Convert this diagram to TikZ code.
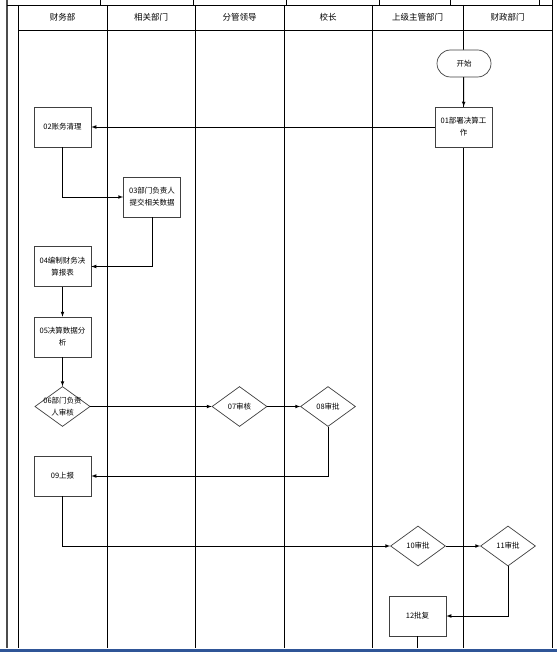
\documentclass[tikz,border=0pt]{standalone}
\usepackage{fontspec}
\setmainfont{Noto Sans CJK SC}
\usepackage{xcolor}
\usetikzlibrary{arrows}
\usetikzlibrary{shapes.geometric}
\usetikzlibrary{positioning}
\definecolor{barblue}{RGB}{47,85,151}

\begin{document}
\begin{tikzpicture}[x=1pt,y=-1pt,->,>=latex,semithick,line width=0.7pt]
 				 \tikzstyle{lane}=[-,draw=black,line width=0.8pt]
 				 \tikzstyle{head}=[font=\fontsize{8.5}{10}\selectfont]
 				 \tikzstyle{task}=[draw=black!75,fill=white,minimum width=57pt,minimum height=40pt,inner sep=1pt,align=center,font=\fontsize{7.5}{12}\selectfont]
 				 \tikzstyle{check}=[diamond,aspect=1.4,draw=black!75,fill=white,minimum width=55pt,minimum height=40pt,inner sep=-2pt,align=center,font=\fontsize{7.5}{12}\selectfont]
 				 \tikzstyle{term}=[draw=black!75,fill=white,rounded corners=13.5pt,minimum width=54pt,minimum height=27pt,font=\fontsize{7.5}{12}\selectfont]
 				 \useasboundingbox (0,0) rectangle (557,652);
 				 % frame and lanes
 				 \fill[barblue] (0,649) rectangle (557,652);
 				 \draw[lane,draw=black!70,line width=1.2pt] (7,0) -- (7,648);
 				 \draw[lane] (18,5) -- (18,648);
 				 \draw[lane] (552,0) -- (552,648);
 				 \draw[lane] (7,5) -- (552,5);
 				 \draw[lane] (18,30) -- (552,30);
 				 \foreach \x in {100,193,286,379,450,539}
 				 	\draw[lane] (\x,0) -- (\x,5);
 				 \foreach \x in {107,195,284,372,463}
 				 	\draw[lane] (\x,5) -- (\x,648);
 				 \node[head] (h1) at (62.5,17.5) {财务部};
 				 \node[head] (h2) at (151,17.5) {相关部门};
 				 \node[head] (h3) at (239.5,17.5) {分管领导};
 				 \node[head] (h4) at (328,17.5) {校长};
 				 \node[head] (h5) at (417.5,17.5) {上级主管部门};
 				 \node[head] (h6) at (507.5,17.5) {财政部门};
 				 % steps
 				 \node[term]  (start) at (464,63.5) {开始};
 				 \node[task]  (s01) at (463.5,127) {01部署决算工\\作};
 				 \node[task]  (s02) at (62.5,127) {02账务清理};
 				 \node[task]  (s03) at (152,197) {03部门负责人\\提交相关数据};
 				 \node[task]  (s04) at (62.5,266.5) {04编制财务决\\算报表};
 				 \node[task]  (s05) at (62.5,337) {05决算数据分\\析};
 				 \node[check] (s06) at (62.5,406.5) {06部门负责\\人审核};
 				 \node[check] (s07) at (239.5,406.5) {07审核};
 				 \node[check] (s08) at (328,406.5) {08审批};
 				 \node[task]  (s09) at (62.5,476) {09上报};
 				 \node[check] (s10) at (418,546) {10审批};
 				 \node[check] (s11) at (508,546) {11审批};
 				 \node[task]  (s12) at (417.5,616) {12批复};
 				 \coordinate (out) at (417.5,648);
				\path
				(start) edge (s01)
				(s01) edge (s02)
				(s04) edge (s05)
				(s05) edge (s06)
				(s06) edge (s07)
				(s07) edge (s08)
				(s10) edge (s11);
				\draw (s02.south) |- (s03.west);
				\draw (s03.south) |- (s04.east);
				\draw (s08.south) |- (s09.east);
				\draw (s09.south) |- (s10.west);
				\draw (s11.south) |- (s12.east);
				\draw[-] (s12.south) -- (out);
\end{tikzpicture}
\end{document}
